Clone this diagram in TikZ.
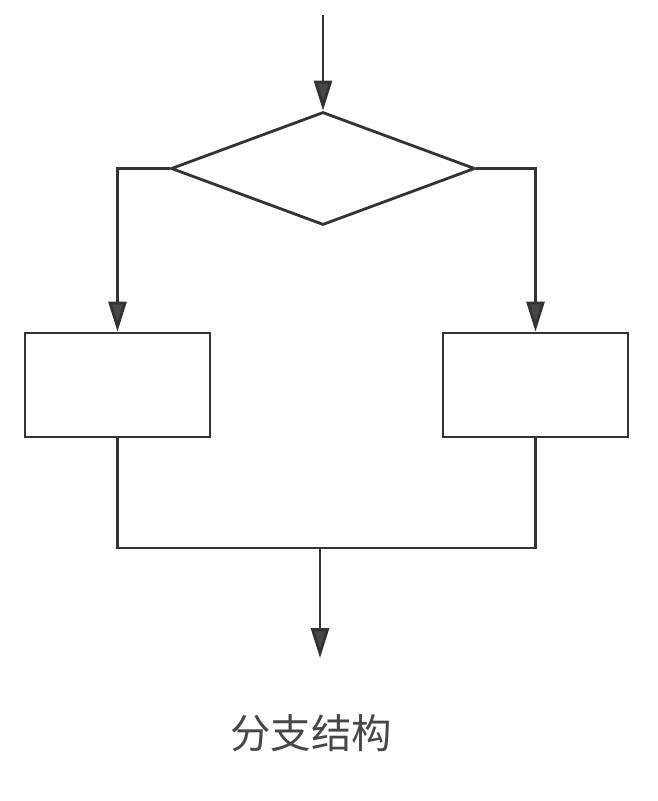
\documentclass[tikz,border=0pt]{standalone}
\usepackage{fontspec}
\newfontfamily\cjk{Noto Sans CJK SC}
\usetikzlibrary{shapes.geometric,arrows.meta}
\definecolor{linegray}{HTML}{333333}
\begin{document}
\begin{tikzpicture}[x=0.02cm,y=-0.02cm,line width=1.6pt,draw=linegray,
  every node/.style={draw=linegray,line width=1.6pt,inner sep=0pt},
  flow/.style={draw=linegray,-{Triangle[length=0.6cm,width=0.36cm,fill=linegray!90]}}]
\useasboundingbox (0,0) rectangle (658,801);
\node[diamond,aspect=2.69,minimum width=6.08cm,minimum height=2.26cm] (cond) at (323,168.5){};
\node[minimum width=3.7cm,minimum height=2.08cm] (yes) at (117.5,385){};
\node[minimum width=3.7cm,minimum height=2.08cm] (no) at (535.5,385){};
\coordinate (in) at (323,15);
\coordinate (join) at (320,548);
\coordinate (out) at (320,658);
%branches
\draw[flow] (in) -- (cond.north);
\draw[flow] (cond.west) -| (yes.north);
\draw[flow] (cond.east) -| (no.north);
%merge
\draw (yes.south) |- (join) -| (no.south);
\draw[flow] (join) -- (out);
\node[draw=none,text=linegray!90] (title) at (311,733){\cjk\fontsize{23}{26}\selectfont 分支结构};
\end{tikzpicture}
\end{document}
